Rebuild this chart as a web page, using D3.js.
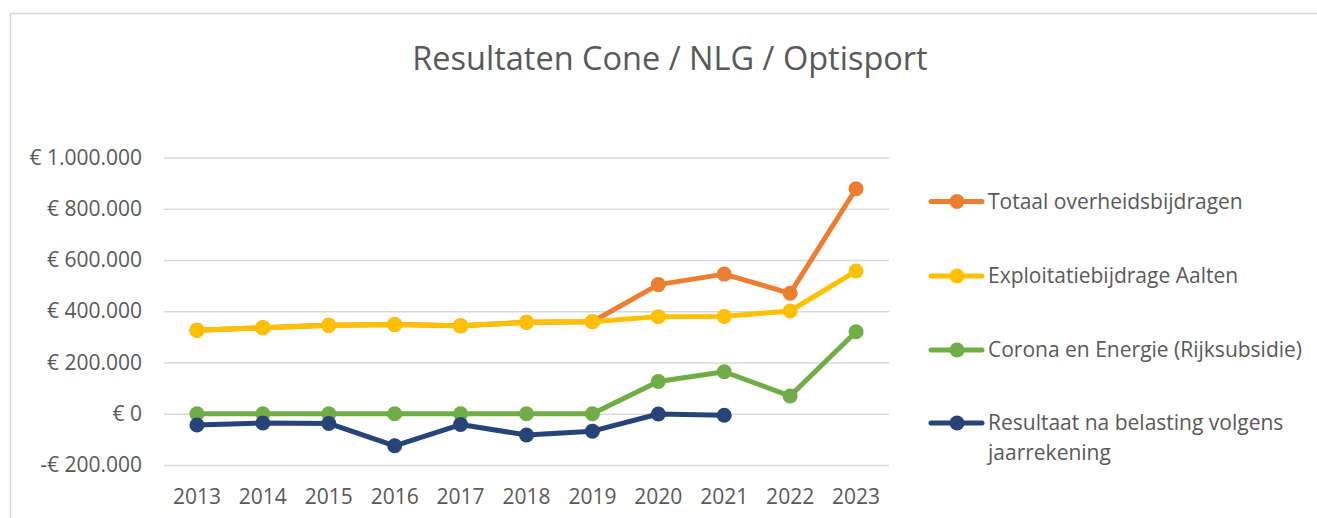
<!DOCTYPE html>
<html>
<head>
<meta charset="utf-8">
<script src="https://cdn.jsdelivr.net/npm/d3@7"></script>
<style>
  html, body { margin: 0; padding: 0; background: #fff; }
  svg { display: block; }
  text { font-family: "Open Sans", "Noto Sans", sans-serif; fill: #595959; }
</style>
</head>
<body>
<svg id="chart" width="1317" height="518"></svg>
<script>
const title = "Resultaten Cone / NLG / Optisport";
const years = ["2013","2014","2015","2016","2017","2018","2019","2020","2021","2022","2023"];
const totaalOverheidsbijdragen = [326000, 336000, 345000, 348000, 343000, 357000, 359000, 504000, 545000, 470000, 878000];
const exploitatiebijdrageAalten = [326000, 336000, 345000, 348000, 343000, 357000, 359000, 379000, 380000, 401000, 557000];
const coronaEnEnergie = [0, 0, 0, 0, 0, 0, 0, 126000, 164000, 69000, 320000];
const resultaatNaBelasting = [-44000, -36000, -38000, -125000, -42000, -83000, -68000, -1000, -6000, null, null];
const yTicks = [-200000, 0, 200000, 400000, 600000, 800000, 1000000];
const yTickLabels = ["-€ 200.000", "€ 0", "€ 200.000", "€ 400.000", "€ 600.000", "€ 800.000", "€ 1.000.000"];
const seriesNames = ["Totaal overheidsbijdragen", "Exploitatiebijdrage Aalten", "Corona en Energie (Rijksubsidie)", "Resultaat na belasting volgens jaarrekening"];
const seriesColors = ["#ED7D31", "#FFC000", "#70AD47", "#264478"];
const seriesValues = [totaalOverheidsbijdragen, exploitatiebijdrageAalten, coronaEnEnergie, resultaatNaBelasting];

const svg = d3.select("#chart");

// chart border (extends past right/bottom edges)
svg.append("path")
  .attr("d", "M10.5,530 L10.5,13.5 L1330,13.5")
  .attr("fill", "none").attr("stroke", "#d9d9d9").attr("stroke-width", 1.5);

// title
svg.append("text")
  .attr("x", 670).attr("y", 57)
  .attr("text-anchor", "middle").attr("dominant-baseline", "central")
  .style("font-size", "32.5px")
  .text(title);

const plot = { left: 164, right: 889, top: 157.5, bottom: 465 };
const x = d3.scaleBand().domain(years).range([plot.left, plot.right]);
const cx = d => x(d) + x.bandwidth() / 2;
const y = d3.scaleLinear().domain([-200000, 1000000]).range([plot.bottom, plot.top]);

// gridlines
const grid = svg.append("g")
  .attr("transform", `translate(${plot.left},0)`)
  .call(d3.axisLeft(y).tickValues(yTicks).tickSize(-(plot.right - plot.left)).tickFormat(""));
grid.select(".domain").remove();
grid.selectAll("line").attr("stroke", "#d9d9d9").attr("stroke-width", 1.5);

// y axis labels
const yAxis = svg.append("g")
  .attr("transform", "translate(142,0)")
  .call(d3.axisLeft(y).tickValues(yTicks).tickSize(0).tickPadding(0)
    .tickFormat(v => yTickLabels[yTicks.indexOf(v)]));
yAxis.select(".domain").remove();
yAxis.selectAll("text")
  .attr("fill", "#595959")
  .style("font-family", '"Open Sans", "Noto Sans", sans-serif')
  .style("font-size", "21px");

// x axis labels
const xAxis = svg.append("g")
  .attr("transform", "translate(0,489)")
  .call(d3.axisBottom(x).tickSize(0).tickPadding(0));
xAxis.select(".domain").remove();
xAxis.selectAll("text")
  .attr("fill", "#595959")
  .style("font-family", '"Open Sans", "Noto Sans", sans-serif')
  .style("font-size", "21px");

// series
const line = d3.line()
  .defined(d => d.v !== null)
  .x(d => cx(d.year))
  .y(d => y(d.v));

seriesValues.forEach((vals, i) => {
  const pts = years.map((yr, j) => ({ year: yr, v: vals[j] }));
  const g = svg.append("g");
  g.append("path")
    .datum(pts)
    .attr("d", line)
    .attr("fill", "none")
    .attr("stroke", seriesColors[i])
    .attr("stroke-width", 5)
    .attr("stroke-linejoin", "round")
    .attr("stroke-linecap", "round");
  g.selectAll("circle")
    .data(pts.filter(d => d.v !== null))
    .join("circle")
    .attr("cx", d => cx(d.year))
    .attr("cy", d => y(d.v))
    .attr("r", 7.5)
    .attr("fill", seriesColors[i]);
});

// legend
const legendY = [201.5, 276, 350, 423];
seriesNames.forEach((name, i) => {
  const g = svg.append("g").attr("transform", `translate(0,${legendY[i]})`);
  g.append("line")
    .attr("x1", 931).attr("x2", 982).attr("y1", 0).attr("y2", 0)
    .attr("stroke", seriesColors[i]).attr("stroke-width", 5).attr("stroke-linecap", "round");
  g.append("circle").attr("cx", 957).attr("cy", 0).attr("r", 7.5).attr("fill", seriesColors[i]);
  const t = g.append("text")
    .attr("x", 988).attr("y", 0)
    .style("font-size", "21px");
  if (i === 3) {
    t.append("tspan").attr("x", 988).attr("dy", "0.35em").text("Resultaat na belasting volgens");
    t.append("tspan").attr("x", 988).attr("dy", 30).text("jaarrekening");
  } else {
    t.attr("dy", "0.35em").text(name);
  }
});
</script>
</body>
</html>
